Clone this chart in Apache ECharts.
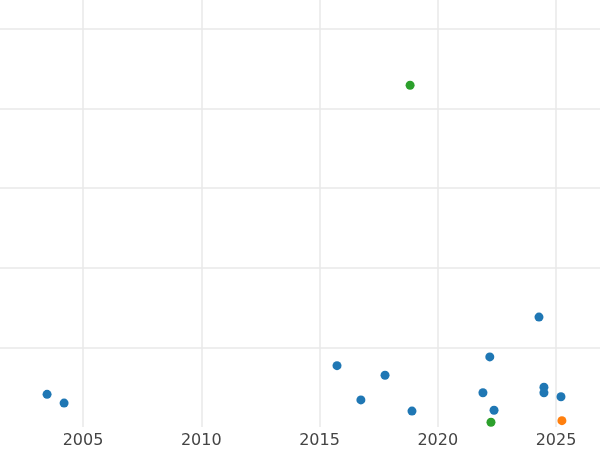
<!DOCTYPE html>
<html>
<head>
<meta charset="utf-8">
<script src="https://cdn.jsdelivr.net/npm/echarts@6/dist/echarts.min.js"></script>
<style>html,body{margin:0;padding:0;background:#fff}#chart{width:600px;height:450px}</style>
</head>
<body>
<div id="chart"></div>
<script>
// tick labels on the x axis
const yearTicks = [2005, 2010, 2015, 2020, 2025];
const yTicks = [1, 2, 3, 4, 5];

// series values: [year, value]
const blueSeries = [
  [2003.48, 0.41], [2004.2, 0.30], [2015.74, 0.77], [2016.75, 0.34],
  [2017.77, 0.65], [2018.91, 0.20], [2021.91, 0.43], [2022.2, 0.88],
  [2022.38, 0.21], [2024.28, 1.38], [2024.49, 0.50], [2024.49, 0.43],
  [2025.21, 0.38]
];
const greenSeries = [[2018.83, 4.29], [2022.25, 0.06]];
const redSeries = [[2023.1, -0.01]];
const orangeSeries = [[2025.25, 0.08]];

const chart = echarts.init(document.getElementById('chart'));
const mk = (data, color) => ({
  type: 'scatter', data, symbolSize: 9, clip: true, itemStyle: { color, opacity: 1 }
});
chart.setOption({
  animation: false,
  grid: { left: 0, right: 0, top: 0, bottom: 23 },
  xAxis: {
    type: 'value', min: 2001.49, max: 2026.86,
    axisLine: { show: false },
    axisTick: { show: false, customValues: yearTicks },
    axisLabel: { customValues: yearTicks, formatter: v => String(v), color: '#444', fontSize: 16, fontFamily: 'DejaVu Sans', margin: 6 },
    splitLine: { show: true, lineStyle: { color: '#e8e8e8', width: 1.5 } }
  },
  yAxis: {
    type: 'value', min: 0, max: 5.36,
    axisLine: { show: false },
    axisTick: { show: false, customValues: yTicks },
    axisLabel: { show: false, customValues: yTicks },
    splitLine: { show: true, lineStyle: { color: '#e8e8e8', width: 1.5 } }
  },
  series: [
    mk(blueSeries, '#1f77b4'),
    mk(greenSeries, '#2ca02c'),
    mk(redSeries, '#d62728'),
    mk(orangeSeries, '#ff7f0e')
  ]
});
</script>
</body>
</html>
